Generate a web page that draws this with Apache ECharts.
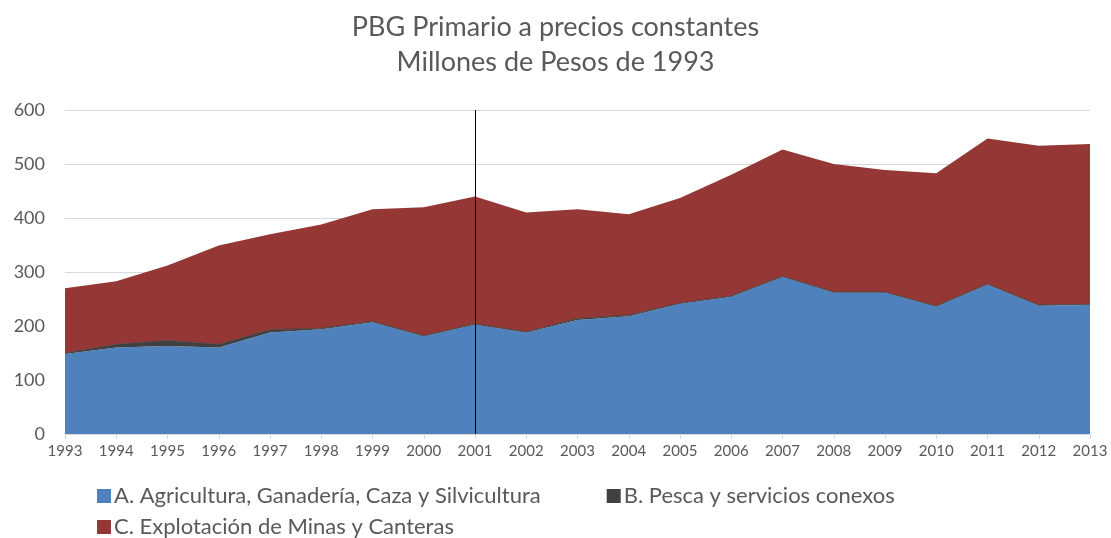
<!DOCTYPE html>
<html>
<head>
<meta charset="utf-8">
<script src="https://cdn.jsdelivr.net/npm/echarts@6/dist/echarts.min.js"></script>
<style>
  html, body { margin: 0; padding: 0; background: #fff; }
  #chart { width: 1111px; height: 538px; }
</style>
</head>
<body>
<div id="chart"></div>
<script>
const years = ['1993', '1994', '1995', '1996', '1997', '1998', '1999', '2000', '2001', '2002', '2003',
  '2004', '2005', '2006', '2007', '2008', '2009', '2010', '2011', '2012', '2013']
const agricultura = [148, 160, 163, 160, 188, 194, 207, 181, 203, 188, 211, 218, 241, 254, 291, 262, 262, 236, 277, 238, 239]
const pesca = [2, 6, 10, 6, 5, 2, 1.5, 1, 1, 1, 3, 2, 1.5, 1.5, 1, 1, 1, 1, 1, 1, 1]
const minas = [120, 117, 139, 183, 177, 192, 207.5, 238, 236, 221, 202, 187, 194.5, 224.5, 235, 237, 226, 246, 269, 295, 297]
const markYear = '2001'

const names = [
  'A. Agricultura, Ganadería, Caza y Silvicultura',
  'B. Pesca y servicios conexos',
  'C. Explotación de Minas y Canteras'
]

const font = 'Lato, "Open Sans", sans-serif'
const textGray = '#595959'

const chart = echarts.init(document.getElementById('chart'))
chart.setOption({
  animation: false,
  color: ['#4F81BD', '#404040', '#953735'],
  title: {
    text: 'PBG Primario a precios constantes\nMillones de Pesos de 1993',
    left: 'center',
    top: 5,
    textStyle: { fontFamily: font, fontSize: 27, fontWeight: 'normal', color: textGray, lineHeight: 35 }
  },
  legend: [
    {
      data: [names[0], names[1]],
      left: 92,
      top: 480,
      itemWidth: 14,
      itemHeight: 14,
      itemGap: 66,
      icon: 'rect',
      textStyle: { fontFamily: font, fontSize: 22, color: textGray, padding: [0, 0, 0, -2] }
    },
    {
      data: [names[2]],
      left: 92,
      top: 511,
      itemWidth: 14,
      itemHeight: 14,
      icon: 'rect',
      textStyle: { fontFamily: font, fontSize: 22, color: textGray, padding: [0, 0, 0, -2] }
    }
  ],
  grid: { left: 65, right: 21, top: 110, bottom: 104 },
  xAxis: {
    type: 'category',
    data: years,
    boundaryGap: false,
    axisLine: { lineStyle: { color: '#d9d9d9', width: 1 } },
    axisTick: { show: true, length: 5, alignWithLabel: true, lineStyle: { color: '#d9d9d9' } },
    axisLabel: { fontFamily: font, fontSize: 15, color: textGray, margin: 10, interval: 0 }
  },
  yAxis: {
    type: 'value',
    min: 0,
    max: 600,
    interval: 100,
    axisLine: { show: false },
    axisTick: { show: false },
    axisLabel: { fontFamily: font, fontSize: 18, color: textGray, margin: 20 },
    splitLine: { lineStyle: { color: '#d9d9d9', width: 1 } }
  },
  series: [
    {
      name: names[0],
      type: 'line',
      stack: 'total',
      data: agricultura,
      showSymbol: false,
      lineStyle: { width: 0 },
      areaStyle: { opacity: 1 }
    },
    {
      name: names[1],
      type: 'line',
      stack: 'total',
      data: pesca,
      showSymbol: false,
      lineStyle: { width: 0.8, color: '#404040' },
      areaStyle: { opacity: 1 }
    },
    {
      name: names[2],
      type: 'line',
      stack: 'total',
      data: minas,
      showSymbol: false,
      lineStyle: { width: 0 },
      areaStyle: { opacity: 1 },
      markLine: {
        silent: true,
        symbol: 'none',
        label: { show: false },
        lineStyle: { color: '#000', width: 1, type: 'solid' },
        data: [{ xAxis: markYear }]
      }
    }
  ]
})
</script>
</body>
</html>
